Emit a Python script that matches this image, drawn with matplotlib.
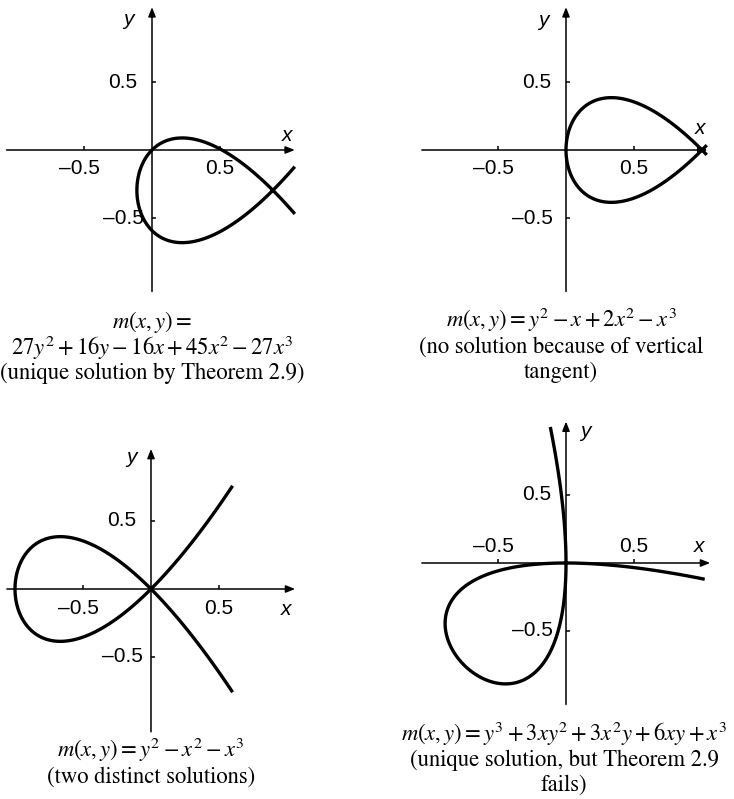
import numpy as np
import matplotlib
matplotlib.use('Agg')
import matplotlib.pyplot as plt

plt.rcParams['mathtext.fontset'] = 'stix'

# ---- data: polynomial terms  m(x,y) = sum coef * x^xpow * y^ypow ----
p1_coef = [27, 16, -16, 45, -27]
p1_xpow = [0, 0, 1, 2, 3]
p1_ypow = [2, 1, 0, 0, 0]

p2_coef = [1, -1, 2, -1]
p2_xpow = [0, 1, 2, 3]
p2_ypow = [2, 0, 0, 0]

p3_coef = [1, -1, -1]
p3_xpow = [0, 2, 3]
p3_ypow = [2, 0, 0]

p4_coef = [1, 3, 3, 6, 1]
p4_xpow = [0, 1, 2, 1, 3]
p4_ypow = [3, 2, 1, 1, 0]

# plotted domain of each curve
p1_xdom = [-0.3, 1.05]; p1_ydom = [-0.8, 0.3]
p2_xdom = [-0.1, 1.035]; p2_ydom = [-0.5, 0.5]
p3_xdom = [-1.1, 0.6]; p3_ydom = [-1.0, 1.0]
p4_xdom = [-1.0, 1.02]; p4_ydom = [-1.0, 1.0]

tick_values = [-0.5, 0.5]
tick_labels = ['\u20130.5', '0.5']

cap1 = ['$m(x,y) =$', '$27y^2+16y-16x+45x^2-27x^3$', '(unique solution by Theorem 2.9)']
cap2 = ['$m(x,y) = y^2-x+2x^2-x^3$', '(no solution because of vertical', 'tangent)']
cap3 = ['$m(x,y) = y^2-x^2-x^3$', '(two distinct solutions)']
cap4 = ['$m(x,y) = y^3+3xy^2+3x^2y+6xy+x^3$', '(unique solution, but Theorem 2.9', 'fails)']

W, H = 734, 799
S = 136.0  # px per unit
LIM = 1.1
fig = plt.figure(figsize=(W / 100, H / 100), dpi=100)


def poly(coef, xp, yp, X, Y):
    Z = np.zeros_like(X)
    for c, a, b in zip(coef, xp, yp):
        Z = Z + c * X ** a * Y ** b
    return Z


def panel(ox, oy, coef, xp, yp, xdom, ydom, xext, yext, xlab_below, xlabpos, ylabpos,
          ylab_dx):
    left = (ox - LIM * S) / W
    bottom = (H - (oy + LIM * S)) / H
    ax = fig.add_axes([left, bottom, 2 * LIM * S / W, 2 * LIM * S / H])
    ax.set_xlim(-LIM, LIM)
    ax.set_ylim(-LIM, LIM)
    ax.patch.set_alpha(0)
    for sp in ['top', 'right']:
        ax.spines[sp].set_visible(False)
    for sp in ['left', 'bottom']:
        ax.spines[sp].set_position(('data', 0))
        ax.spines[sp].set_color('none')
    ax.set_xticks(tick_values)
    ax.set_yticks(tick_values)
    ax.tick_params(direction='in', length=3, width=1.1, color='black',
                   labelbottom=False, labelleft=False)
    arrow = dict(arrowstyle='-|>,head_length=0.55,head_width=0.22', lw=1.1,
                 color='black', shrinkA=0, shrinkB=0)
    ax.annotate('', xy=(xext[1], 0), xytext=(xext[0], 0), arrowprops=arrow)
    ax.annotate('', xy=(0, yext[1]), xytext=(0, yext[0]), arrowprops=arrow)

    xs = np.linspace(xdom[0], xdom[1], 900)
    ys = np.linspace(ydom[0], ydom[1], 900)
    X, Y = np.meshgrid(xs, ys)
    Z = poly(coef, xp, yp, X, Y)
    ax.contour(X, Y, Z, levels=[0], colors='black', linewidths=2.4)

    f = 0.72
    tfont = dict(family='Liberation Sans', size=15)
    for v, lab in zip(tick_values, tick_labels):
        dx = -5 if v < 0 else 0
        dy = -19 if xlab_below else 16.5
        ax.annotate(lab, xy=(v, 0), xytext=(dx * f, dy * f), textcoords='offset points',
                    ha='center', va='center', **tfont)
    for v, lab, d in zip(tick_values, tick_labels, ylab_dx):
        ax.annotate(lab, xy=(0, v), xytext=(d * f, 0), textcoords='offset points',
                    ha='center', va='center', **tfont)
    ax.text(xlabpos[0], xlabpos[1], 'x', style='italic', ha='center', va='center', **tfont)
    ax.text(ylabpos[0], ylabpos[1], 'y', style='italic', ha='center', va='center', **tfont)
    return ax


panel(152, 150, p1_coef, p1_xpow, p1_ypow, p1_xdom, p1_ydom,
      [-1.07, 1.05], [-1.04, 1.05], True, (0.99, 0.11), (-0.17, 0.96), [-29, -29])
panel(566, 150, p2_coef, p2_xpow, p2_ypow, p2_xdom, p2_ydom,
      [-1.06, 1.04], [-1.04, 1.05], True, (0.985, 0.16), (-0.164, 0.955), [-34, -29])
panel(151, 589, p3_coef, p3_xpow, p3_ypow, p3_xdom, p3_ydom,
      [-1.06, 1.06], [-1.05, 1.03], True, (0.995, -0.15), (-0.147, 0.97), [-29, -29])
panel(566, 563, p4_coef, p4_xpow, p4_ypow, p4_xdom, p4_ydom,
      [-1.06, 1.06], [-1.04, 1.04], False, (0.98, 0.12), (0.142, 0.965), [-34, -29])


def caption(cx, baselines, lines):
    for yb, ln in zip(baselines, lines):
        fig.text(cx / W, 1 - yb / H, ln, ha='center', va='baseline',
                 family='STIXGeneral', size=16.3)


caption(152, [328, 355, 379], cap1)
caption(561, [327, 353, 378], cap2)
caption(151, [757, 783], cap3)
caption(564, [741, 766, 791], cap4)

fig.savefig('out.png', dpi=100)
